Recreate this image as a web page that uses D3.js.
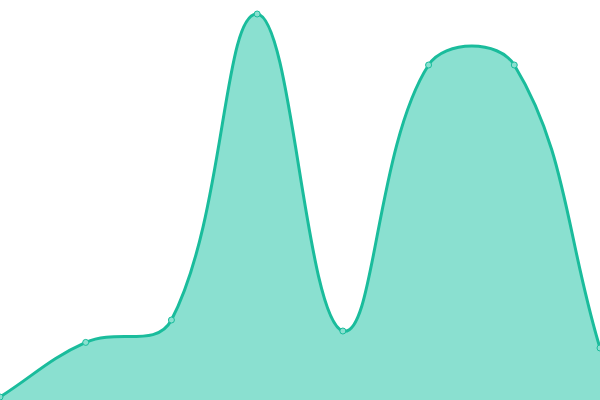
<!DOCTYPE html>
<html>
<head>
<meta charset="utf-8">
<script src="https://cdn.jsdelivr.net/npm/d3@7"></script>
<style>
    html, body { margin: 0; padding: 0; background: #fff; }
    svg { display: block; }
</style>
</head>
<body>
<div id="chart"></div>
<script>
// chart data
var labels = ['A', 'B', 'C', 'D', 'E', 'F', 'G', 'H'];
var values = [0.75, 14.4, 20, 96.5, 17.25, 83.75, 83.75, 13];
var yDomain = [0, 100];

(function()
{
    var width = 600, height = 400, tension = 0.4;

    var x = d3.scalePoint().domain(labels).range([0, width]),
        y = d3.scaleLinear().domain(yDomain).range([height, 0]);

    var clampX = function(v) { return Math.max(0, Math.min(width, v)); },
        clampY = function(v) { return Math.max(0, Math.min(height, v)); };

    // spline like the one chart libraries use: control points scaled by neighbour distances
    var splineCurve = function(context)
    {
        return {
            areaStart : function() { this._line = 0; },
            areaEnd : function() { this._line = NaN; },
            lineStart : function() { this._pts = []; },
            point : function(px, py) { this._pts.push([+px, +py]); },
            lineEnd : function()
            {
                var p = this._pts, n = p.length, i, ctrl = [];
                for (i = 0; i < n; i++) {
                    var prev = p[i - 1] || p[i], cur = p[i], next = p[i + 1] || p[i];
                    var d01 = Math.hypot(cur[0] - prev[0], cur[1] - prev[1]),
                        d12 = Math.hypot(next[0] - cur[0], next[1] - cur[1]),
                        s01 = d01 / (d01 + d12) || 0,
                        s12 = d12 / (d01 + d12) || 0,
                        fa = tension * s01, fb = tension * s12;
                    ctrl.push({
                        prev : [clampX(cur[0] - fa * (next[0] - prev[0])), clampY(cur[1] - fa * (next[1] - prev[1]))],
                        next : [clampX(cur[0] + fb * (next[0] - prev[0])), clampY(cur[1] + fb * (next[1] - prev[1]))]
                    });
                }
                if (n) {
                    if (this._line) context.lineTo(p[0][0], p[0][1]);
                    else context.moveTo(p[0][0], p[0][1]);
                }
                for (i = 1; i < n; i++) {
                    context.bezierCurveTo(ctrl[i - 1].next[0], ctrl[i - 1].next[1],
                        ctrl[i].prev[0], ctrl[i].prev[1], p[i][0], p[i][1]);
                }
                if (this._line || (this._line !== 0 && n === 1)) context.closePath();
                this._line = 1 - this._line;
            }
        };
    };

    var svg = d3.select('#chart').append('svg')
        .attr('width', width)
        .attr('height', height);

    var area = d3.area()
        .x(function(d, i) { return x(labels[i]); })
        .y0(height)
        .y1(function(d) { return y(d); })
        .curve(splineCurve);

    var line = d3.line()
        .x(function(d, i) { return x(labels[i]); })
        .y(function(d) { return y(d); })
        .curve(splineCurve);

    svg.append('path')
        .datum(values)
        .attr('d', area)
        .attr('fill', 'rgb(138,224,208)');

    svg.append('path')
        .datum(values)
        .attr('d', line)
        .attr('fill', 'none')
        .attr('stroke', 'rgb(26,188,156)')
        .attr('stroke-width', 3);

    svg.selectAll('circle.pt')
        .data(values)
        .enter().append('circle')
        .attr('class', 'pt')
        .attr('cx', function(d, i) { return x(labels[i]); })
        .attr('cy', function(d) { return y(d); })
        .attr('r', 3)
        .attr('fill', 'rgb(138,224,208)')
        .attr('stroke', 'rgb(26,188,156)')
        .attr('stroke-width', 1);
})();
</script>
</body>
</html>
